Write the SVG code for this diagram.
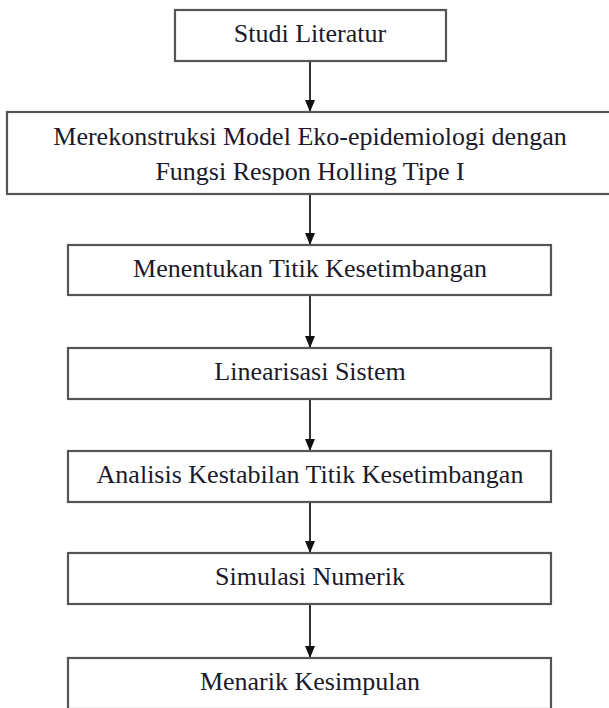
<svg xmlns="http://www.w3.org/2000/svg" width="609" height="708" viewBox="0 0 609 708">
<defs>
<style>
.box{fill:#ffffff;stroke:#555555;stroke-width:2.2}
.lbl{font-family:"Liberation Serif","Times New Roman",serif;font-size:26px;fill:#1a1a2a;text-anchor:middle}
.conn{stroke:#333333;stroke-width:2;fill:none}
</style>
<marker id="ah" markerWidth="12" markerHeight="10" refX="12" refY="5" orient="auto" markerUnits="userSpaceOnUse" viewBox="0 0 12 10">
<path d="M0,0 L12,5 L0,10 Z" fill="#111111"/>
</marker>
</defs>
<rect width="609" height="708" fill="#ffffff"/>
<g id="connectors">
<line class="conn" x1="310" y1="61" x2="310" y2="112" marker-end="url(#ah)"/>
<line class="conn" x1="310" y1="194" x2="310" y2="245" marker-end="url(#ah)"/>
<line class="conn" x1="310" y1="295" x2="310" y2="348" marker-end="url(#ah)"/>
<line class="conn" x1="310" y1="399" x2="310" y2="451" marker-end="url(#ah)"/>
<line class="conn" x1="310" y1="502" x2="310" y2="553" marker-end="url(#ah)"/>
<line class="conn" x1="310" y1="604" x2="310" y2="658" marker-end="url(#ah)"/>
</g>
<g id="n1">
<rect class="box" x="175" y="10" width="271" height="51"/>
<text class="lbl" x="310" y="42">Studi Literatur</text>
</g>
<g id="n2">
<rect class="box" x="7" y="112" width="606" height="82"/>
<text class="lbl" x="310" y="145">Merekonstruksi Model Eko-epidemiologi dengan</text>
<text class="lbl" x="310" y="180">Fungsi Respon Holling Tipe I</text>
</g>
<g id="n3">
<rect class="box" x="68" y="245" width="483" height="50"/>
<text class="lbl" x="310" y="277">Menentukan Titik Kesetimbangan</text>
</g>
<g id="n4">
<rect class="box" x="68" y="348" width="483" height="51"/>
<text class="lbl" x="310" y="380">Linearisasi Sistem</text>
</g>
<g id="n5">
<rect class="box" x="68" y="451" width="483" height="51"/>
<text class="lbl" x="310" y="483">Analisis Kestabilan Titik Kesetimbangan</text>
</g>
<g id="n6">
<rect class="box" x="68" y="553" width="483" height="51"/>
<text class="lbl" x="310" y="585">Simulasi Numerik</text>
</g>
<g id="n7">
<rect class="box" x="68" y="658" width="483" height="51"/>
<text class="lbl" x="310" y="690">Menarik Kesimpulan</text>
</g>
</svg>
